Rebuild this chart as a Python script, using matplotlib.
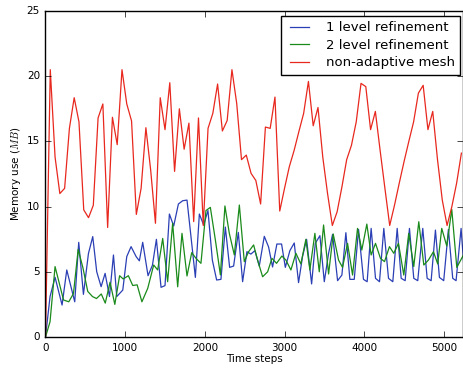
import numpy as np
import matplotlib
matplotlib.use('Agg')
import matplotlib.pyplot as plt

# non-adaptive mesh, sampled every 60 steps
red_steps = np.arange(88) * 60
red_mem = [0, 20.5, 13.8, 11.0, 11.4, 16.0, 18.35, 16.5, 9.75, 9.15,
           10.1, 16.8, 17.87, 8.4, 16.85, 14.75, 20.5, 17.87, 16.57, 9.4,
           11.4, 16.05, 12.8, 8.72, 18.35, 15.9, 19.5, 12.7, 17.5, 14.4,
           16.4, 8.85, 16.8, 8.55, 16.0, 17.15, 19.4, 15.8, 16.6, 20.5,
           17.9, 13.6, 13.95, 12.55, 12.0, 10.2, 16.1, 16.0, 18.4, 9.66,
           11.4, 13.06, 14.3, 15.75, 17.15, 19.6, 16.2, 17.6, 13.8, 11.0,
           8.55, 9.6, 11.5, 13.6, 14.7, 16.5, 19.45, 19.2, 15.9, 17.3,
           14.3, 11.4, 8.55, 10.1, 11.8, 13.45, 15.0, 16.5, 18.7, 19.3,
           15.9, 17.3, 13.6, 10.5, 8.55, 10.0, 11.8, 14.1]

# 1 level refinement
blue_steps = [0, 57, 120, 208, 267, 367, 417, 476, 539, 593,
              643, 698, 748, 803, 853, 894, 970, 1020, 1074, 1137,
              1178, 1220, 1287, 1342, 1392, 1450, 1500, 1555, 1609, 1668,
              1722, 1776, 1826, 1881, 1931, 1985, 2039, 2094, 2148, 2202,
              2257, 2311, 2361, 2420, 2474, 2528, 2578, 2628, 2683, 2746,
              2800, 2850, 2904, 2963, 3010, 3067, 3122, 3176, 3226, 3277,
              3340, 3386, 3444, 3499, 3553, 3603, 3666, 3720, 3770, 3820,
              3875, 3929, 3991, 4037, 4087, 4142, 4192, 4246, 4305, 4359,
              4414, 4464, 4514, 4568, 4622, 4672, 4735, 4790, 4840, 4894,
              4944, 4998, 5057, 5111, 5153, 5216, 5250]
blue_mem = [0, 3.1, 4.58, 2.45, 5.14, 2.7, 7.26, 3.27, 6.4, 7.7,
            5.0, 3.86, 4.88, 3.1, 6.29, 3.1, 3.6, 6.17, 6.93, 6.17,
            5.84, 7.26, 4.7, 5.5, 7.49, 3.81, 3.94, 9.43, 8.51, 10.2,
            10.45, 10.5, 7.69, 4.57, 9.43, 8.59, 9.7, 5.9, 4.37, 4.42,
            8.43, 5.34, 5.44, 8.02, 4.24, 6.54, 6.36, 6.62, 5.44, 7.72,
            6.9, 5.37, 7.13, 7.13, 5.34, 6.62, 7.21, 4.17, 6.17, 7.49,
            4.07, 7.18, 7.77, 4.24, 6.42, 7.87, 4.32, 4.75, 8.0, 4.42,
            4.42, 8.25, 4.42, 4.24, 8.33, 4.5, 4.24, 8.33, 4.5, 4.24,
            8.33, 4.5, 4.32, 8.33, 4.5, 4.32, 8.33, 4.5, 4.32, 8.2,
            4.57, 4.32, 8.25, 4.5, 4.32, 8.33, 5.5]

# 2 level refinement
green_steps = [0, 57, 120, 226, 292, 351, 410, 470, 530, 590,
               640, 700, 750, 810, 870, 930, 975, 1040, 1095, 1150,
               1210, 1283, 1358, 1408, 1471, 1533, 1596, 1659, 1713, 1776,
               1835, 1889, 1951, 2014, 2069, 2132, 2195, 2252, 2307, 2370,
               2433, 2495, 2549, 2612, 2662, 2725, 2788, 2842, 2900, 2967,
               3017, 3080, 3143, 3205, 3268, 3318, 3381, 3436, 3490, 3553,
               3611, 3678, 3728, 3791, 3854, 3916, 3970, 4033, 4087, 4142,
               4204, 4255, 4317, 4371, 4430, 4497, 4559, 4622, 4685, 4748,
               4806, 4869, 4923, 4973, 5036, 5099, 5162, 5246]
green_mem = [0, 1.17, 5.4, 2.84, 2.7, 3.33, 6.72, 5.3, 3.5, 3.1,
             2.95, 3.3, 2.6, 4.2, 2.5, 4.7, 4.45, 4.7, 3.95, 4.0,
             2.7, 3.73, 5.52, 5.14, 7.56, 4.24, 8.72, 3.85, 7.95, 4.68,
             6.47, 6.03, 5.65, 9.7, 9.94, 7.44, 4.76, 10.05, 7.95, 6.29,
             10.12, 5.78, 6.54, 7.06, 5.9, 4.62, 5.0, 6.03, 5.65, 6.21,
             5.9, 5.14, 6.42, 5.6, 7.49, 5.14, 7.95, 5.0, 8.59, 4.83,
             7.9, 5.9, 5.34, 7.18, 4.75, 8.33, 6.67, 8.66, 6.29, 7.18,
             6.03, 5.78, 6.93, 6.42, 7.18, 4.75, 7.95, 5.4, 8.84, 5.52,
             5.9, 6.54, 5.6, 8.33, 6.98, 9.79, 5.34, 6.29]

plt.style.use('classic')
plt.rcParams['font.family'] = ['DejaVu Sans']

fig = plt.figure(figsize=(4.64, 3.70), dpi=100, facecolor='white')
ax = fig.add_axes([45.5 / 464, 1 - 337 / 370, 417.5 / 464, 326 / 370])

ax.plot(blue_steps, blue_mem, color='#2b3fb5', lw=0.9, label='1 level refinement')
ax.plot(green_steps, green_mem, color='#1a8a1a', lw=0.9, label='2 level refinement')
ax.plot(red_steps, red_mem, color='#e8281e', lw=0.9, label='non-adaptive mesh')

ax.set_xlim(0, 5240)
ax.set_ylim(0, 25)
ax.set_xticks([0, 1000, 2000, 3000, 4000, 5000])
ax.set_yticks([0, 5, 10, 15, 20, 25])
ax.tick_params(labelsize=7.5, length=4)
ax.set_xlabel('Time steps', fontsize=7.5, labelpad=1)
ax.set_ylabel('Memory use ($MB$)', fontsize=7.5, labelpad=3)

leg = ax.legend(loc='upper right', bbox_to_anchor=(0.993, 0.985), borderaxespad=0,
                fontsize=9.5, handlelength=2.0, handletextpad=1.0, labelspacing=0.35,
                borderpad=0.4, fancybox=False)
leg.get_frame().set_edgecolor('black')

fig.savefig('out.png', dpi=100, facecolor='white')
